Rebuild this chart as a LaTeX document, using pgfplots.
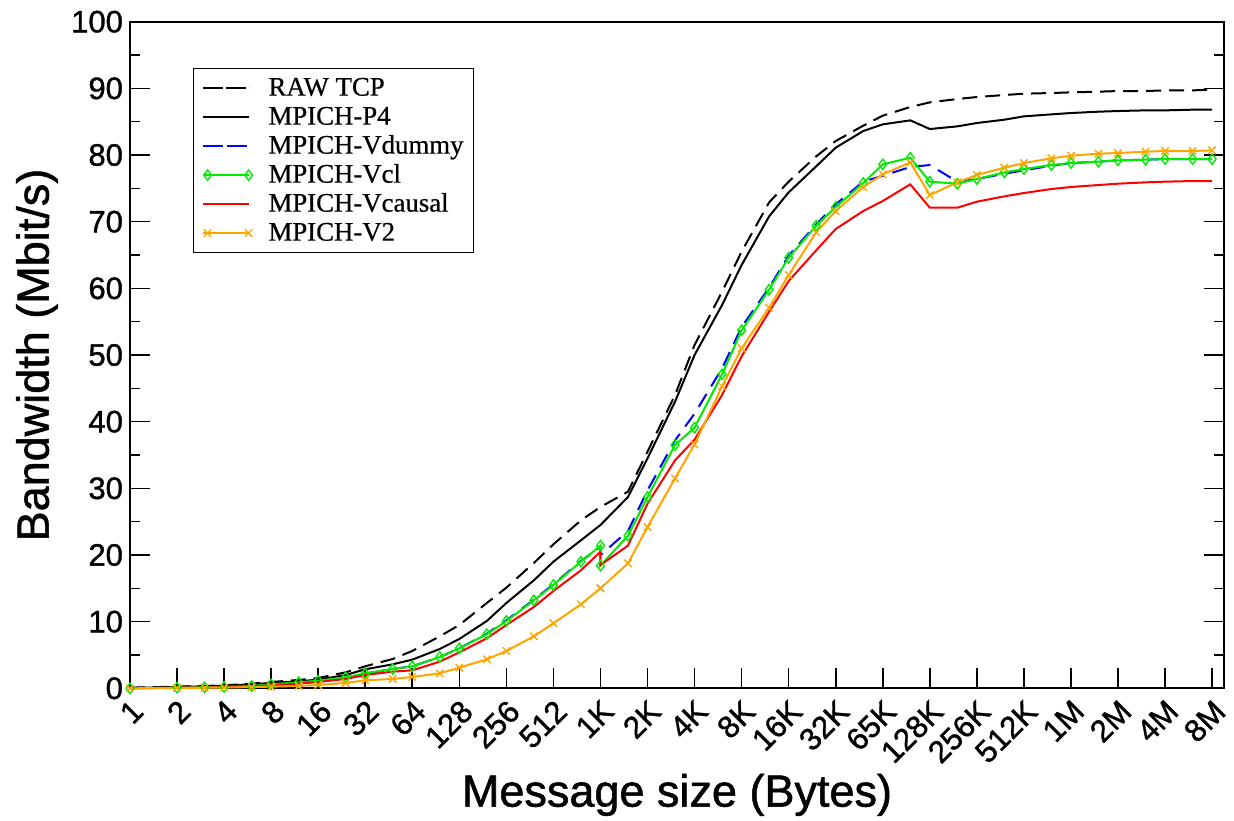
\documentclass[border=0pt]{standalone}
\usepackage{fontspec}
\setmainfont{Liberation Sans}
\newfontfamily\heavy[FakeBold=1.2]{Liberation Sans}
\newfontfamily\timesfont[FakeBold=0.6]{Liberation Serif}
\usepackage{pgfplots}
\usepackage{pgfplotstable}
\pgfplotsset{compat=1.18}
\definecolor{vgreen}{RGB}{0,235,0}
\definecolor{vorange}{RGB}{255,165,0}

% bandwidth in Mbit/s against message size in bytes
\pgfplotstableread{
size     raw   p4    vdummy vcl   vcausal v2
1        0.10  0.05  0.00   0.00  0.00    0.00
2        0.25  0.20  0.10   0.10  0.08    0.05
3        0.35  0.30  0.15   0.15  0.12    0.08
4        0.45  0.40  0.20   0.20  0.18    0.12
6        0.70  0.60  0.35   0.35  0.30    0.18
8        0.95  0.80  0.55   0.60  0.45    0.25
12       1.25  1.05  0.85   0.90  0.70    0.35
16       1.55  1.30  1.10   1.15  0.95    0.50
24       2.40  2.00  1.60   1.65  1.40    0.80
32       3.30  2.85  2.20   2.25  2.00    1.20
48       4.40  3.60  2.90   2.90  2.50    1.40
64       5.60  4.30  3.30   3.30  2.70    1.70
96       7.80  5.90  4.70   4.70  4.00    2.25
128      9.50  7.40  6.00   6.00  5.40    3.10
192      12.8  10.1  8.20   8.10  7.50    4.35
256      15.1  12.8  10.2   10.1  9.50    5.60
384      18.8  16.2  13.3   13.2  12.2    7.80
512      21.6  19.0  15.6   15.5  14.6    9.75
768      25.2  22.2  19.1   19.0  17.7    12.6
1024     27.2  24.5  21.2   21.4  20.5    15.0
1024     27.2  24.5  20.0   18.4  18.5    15.0
1536     29.5  28.7  23.6   22.9  21.4    18.75
2048     35.5  34.5  29.7   28.7  27.7    24.2
3072     44.0  43.0  37.2   36.5  34.2    31.5
4096     51.5  50.0  41.2   39.1  37.3    36.6
6144     59.5  57.5  48.0   47.1  44.0    45.3
8192     65.5  63.5  54.2   53.7  49.8    51.0
12288    72.9  70.8  60.1   59.8  56.5    57.1
16384    76.0  74.4  64.9   64.6  61.1    62.0
24576    79.8  78.3  69.6   69.4  65.7    68.4
32768    82.1  81.1  72.6   72.2  68.9    71.6
49152    84.4  83.6  76.0   75.8  71.6    75.2
65536    85.9  84.6  76.9   78.6  73.1    77.1
98304    87.2  85.2  78.2   79.6  75.6    78.9
131072   87.9  83.9  78.5   76.0  72.1    74.0
196608   88.4  84.3  76.0   75.7  72.1    75.9
262144   88.7  84.8  76.4   76.4  73.0    77.0
393216   89.0  85.3  77.2   77.4  73.8    78.1
524288   89.2  85.8  77.7   77.9  74.3    78.8
786432   89.3  86.1  78.4   78.5  74.9    79.5
1048576  89.4  86.3  78.8   78.8  75.2    79.9
1572864  89.5  86.5  79.0   79.0  75.5    80.2
2097152  89.6  86.6  79.2   79.2  75.7    80.3
3145728  89.6  86.7  79.3   79.3  75.9    80.5
4194304  89.7  86.7  79.4   79.4  76.0    80.6
6291456  89.7  86.8  79.4   79.4  76.1    80.6
8388608  89.8  86.8  79.4   79.4  76.1    80.7
}\bw

\begin{document}
\begin{tikzpicture}
\begin{axis}[
    scale only axis, width=547pt, height=333.3pt,
    xmode=log, log basis x=2, xmin=1, xmax=1e7,
    ymin=0, ymax=100,
    xtick={1,2,4,8,16,32,64,128,256,512,1024,2048,4096,8192,16384,32768,65536,131072,262144,524288,1048576,2097152,4194304,8388608},
    xticklabels={1,2,4,8,16,32,64,128,256,512,1K,2K,4K,8K,16K,32K,65K,128K,256K,512K,1M,2M,4M,8M},
    xminorticks=false, xtick pos=bottom,
    ytick={0,10,...,100}, minor y tick num=1,
    tick align=inside, major tick length=10pt, minor tick length=5pt,
    every tick/.style={black, line width=0.8pt},
    axis line style={line width=1pt},
    /pgf/number format/assume math mode=true,
    x tick label style={rotate=45, anchor=north east, font=\heavy\fontsize{15.5}{18}\selectfont},
    y tick label style={font=\heavy\fontsize{15.5}{18}\selectfont},
    label style={font=\heavy\fontsize{22.5}{26}\selectfont},
    xlabel={Message size (Bytes)},
    ylabel={Bandwidth (Mbit/s)},
    xlabel style={at={(axis description cs:0.5,-0.16)}, anchor=center},
    ylabel style={at={(axis description cs:-0.085,0.5)}, anchor=center},
    clip=false,
    legend style={at={(0.0576,0.9305)}, anchor=north west, draw=black, line width=0.6pt,
        font=\timesfont\fontsize{13.4}{16}\selectfont,
        inner xsep=4pt, inner ysep=2.5pt, row sep=0pt, column sep=7pt,
        nodes={inner sep=1pt, text height=10pt, text depth=2.5pt}},
    legend cell align=left,
    legend image code/.code={\path (-2.5pt,0pt) -- (20.5pt,0pt);
        \draw[mark repeat=1, mark phase=1, #1] plot coordinates {(0pt,0pt) (20.5pt,0pt)};},
]
\addplot[black, line width=1pt, dash pattern=on 7.5pt off 4pt] table[x=size, y=raw] {\bw};
\addlegendentry{RAW TCP}
\addplot[black, line width=1pt] table[x=size, y=p4] {\bw};
\addlegendentry{MPICH-P4}
\addplot[blue, line width=1pt, dash pattern=on 7.5pt off 4.5pt] table[x=size, y=vdummy] {\bw};
\addlegendentry{MPICH-Vdummy}
\addplot[vgreen, line width=1pt, mark=diamond, mark size=2.6pt, mark options={solid, line width=0.7pt}] table[x=size, y=vcl] {\bw};
\addlegendentry{MPICH-Vcl}
\addplot[red, line width=1pt] table[x=size, y=vcausal] {\bw};
\addlegendentry{MPICH-Vcausal}
\addplot[vorange, line width=1pt, mark=x, mark size=2.6pt, mark options={solid, line width=0.7pt}] table[x=size, y=v2] {\bw};
\addlegendentry{MPICH-V2}
\end{axis}
\pgfresetboundingbox
\useasboundingbox (-65pt,-65.85pt) rectangle (552pt,344.15pt);
\end{tikzpicture}
\end{document}
